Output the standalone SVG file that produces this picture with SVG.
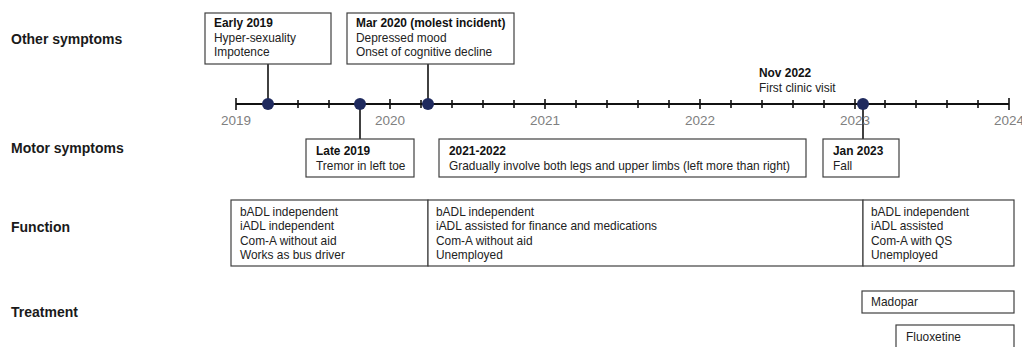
<svg xmlns="http://www.w3.org/2000/svg" width="1022" height="347" viewBox="0 0 1022 347">
<style>
text{font-family:"Liberation Sans",Arial,sans-serif;}
.lab{font-size:14px;font-weight:bold;fill:#1a1a1a;}
.t{font-size:11.9px;fill:#222;}
.b{font-size:11.9px;font-weight:bold;fill:#111;}
.yr{font-size:13.5px;fill:#808080;text-anchor:middle;}
.box{fill:#fff;stroke:#404040;stroke-width:1.2;}
.ax{stroke:#111;stroke-width:2;fill:none;}
.tk{stroke:#111;stroke-width:1.6;}
.con{stroke:#111;stroke-width:1.6;fill:none;}
.dot{fill:#1f2a5e;}
</style>
<rect width="1022" height="347" fill="#fff"/>
<g id="row-labels">
<text class="lab" x="11" y="44">Other symptoms</text>
<text class="lab" x="11" y="153">Motor symptoms</text>
<text class="lab" x="11" y="232">Function</text>
<text class="lab" x="11" y="317">Treatment</text>
</g>
<g id="connectors">
<line class="con" x1="268" y1="64" x2="268" y2="104"/>
<line class="con" x1="428" y1="64" x2="428" y2="104"/>
<line class="con" x1="360" y1="104" x2="360" y2="139"/>
<line class="con" x1="863" y1="104" x2="863" y2="139"/>
</g>
<g id="timeline">
<line class="ax" x1="236" y1="104" x2="1009" y2="104"/>
<g class="tk">
<line x1="236" y1="98" x2="236" y2="110"/>
<line x1="267" y1="100" x2="267" y2="108"/>
<line x1="298" y1="100" x2="298" y2="108"/>
<line x1="329" y1="100" x2="329" y2="108"/>
<line x1="360" y1="100" x2="360" y2="108"/>
<line x1="390" y1="99" x2="390" y2="109"/>
<line x1="421" y1="100" x2="421" y2="108"/>
<line x1="452" y1="100" x2="452" y2="108"/>
<line x1="483" y1="100" x2="483" y2="108"/>
<line x1="514" y1="100" x2="514" y2="108"/>
<line x1="545" y1="99" x2="545" y2="109"/>
<line x1="576" y1="100" x2="576" y2="108"/>
<line x1="607" y1="100" x2="607" y2="108"/>
<line x1="638" y1="100" x2="638" y2="108"/>
<line x1="669" y1="100" x2="669" y2="108"/>
<line x1="700" y1="99" x2="700" y2="109"/>
<line x1="731" y1="100" x2="731" y2="108"/>
<line x1="762" y1="100" x2="762" y2="108"/>
<line x1="793" y1="100" x2="793" y2="108"/>
<line x1="824" y1="100" x2="824" y2="108"/>
<line x1="855" y1="99" x2="855" y2="109"/>
<line x1="885" y1="100" x2="885" y2="108"/>
<line x1="916" y1="100" x2="916" y2="108"/>
<line x1="947" y1="100" x2="947" y2="108"/>
<line x1="978" y1="100" x2="978" y2="108"/>
<line x1="1009" y1="98" x2="1009" y2="110"/>
</g>
<text class="yr" x="236" y="125">2019</text>
<text class="yr" x="390" y="125">2020</text>
<text class="yr" x="545" y="125">2021</text>
<text class="yr" x="700" y="125">2022</text>
<text class="yr" x="855" y="125">2023</text>
<text class="yr" x="1009" y="125">2024</text>
<circle class="dot" cx="268" cy="104" r="6"/>
<circle class="dot" cx="360" cy="104" r="6"/>
<circle class="dot" cx="428" cy="104" r="6"/>
<circle class="dot" cx="863" cy="104" r="6"/>
</g>
<g id="early-2019">
<rect class="box" x="205" y="13" width="126" height="51"/>
<text class="b" x="214" y="27">Early 2019</text>
<text class="t" x="214" y="42">Hyper-sexuality</text>
<text class="t" x="214" y="56">Impotence</text>
</g>
<g id="mar-2020">
<rect class="box" x="347" y="13" width="167" height="51"/>
<text class="b" x="356" y="27">Mar 2020 (molest incident)</text>
<text class="t" x="356" y="42">Depressed mood</text>
<text class="t" x="356" y="56">Onset of cognitive decline</text>
</g>
<g id="nov-2022">
<text class="b" x="759" y="77">Nov 2022</text>
<text class="t" x="759" y="92">First clinic visit</text>
</g>
<g id="late-2019">
<rect class="box" x="306" y="139" width="108" height="38"/>
<text class="b" x="316" y="155">Late 2019</text>
<text class="t" x="316" y="170">Tremor in left toe</text>
</g>
<g id="y2021-2022">
<rect class="box" x="439" y="139" width="367" height="38"/>
<text class="b" x="449" y="155">2021-2022</text>
<text class="t" x="449" y="170">Gradually involve both legs and upper limbs (left more than right)</text>
</g>
<g id="jan-2023">
<rect class="box" x="823" y="139" width="76" height="38"/>
<text class="b" x="833" y="155">Jan 2023</text>
<text class="t" x="833" y="170">Fall</text>
</g>
<g id="function-1">
<rect class="box" x="231" y="200" width="197" height="66"/>
<text class="t" x="240" y="216">bADL independent</text>
<text class="t" x="240" y="230">iADL independent</text>
<text class="t" x="240" y="245">Com-A without aid</text>
<text class="t" x="240" y="259">Works as bus driver</text>
</g>
<g id="function-2">
<rect class="box" x="428" y="200" width="435" height="66"/>
<text class="t" x="436" y="216">bADL independent</text>
<text class="t" x="436" y="230">iADL assisted for finance and medications</text>
<text class="t" x="436" y="245">Com-A without aid</text>
<text class="t" x="436" y="259">Unemployed</text>
</g>
<g id="function-3">
<rect class="box" x="863" y="200" width="151" height="66"/>
<text class="t" x="871" y="216">bADL independent</text>
<text class="t" x="871" y="230">iADL assisted</text>
<text class="t" x="871" y="245">Com-A with QS</text>
<text class="t" x="871" y="259">Unemployed</text>
</g>
<g id="madopar">
<rect class="box" x="862" y="291" width="152" height="22"/>
<text class="t" x="871" y="306">Madopar</text>
</g>
<g id="fluoxetine">
<rect class="box" x="896" y="325" width="118" height="30"/>
<text class="t" x="906" y="341">Fluoxetine</text>
</g>
</svg>
